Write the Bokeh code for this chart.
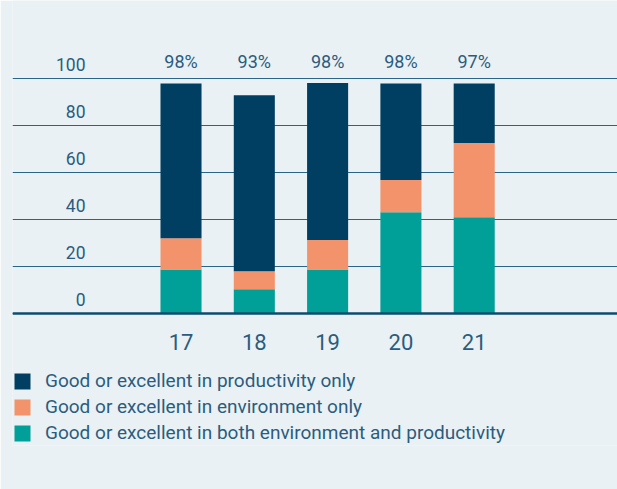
from bokeh.plotting import figure
from bokeh.models import ColumnDataSource, FixedTicker, Legend, LegendItem
from bokeh.embed import file_html
from bokeh.resources import INLINE
from bokeh.core.properties import value

# ---- data ----
years = ["17", "18", "19", "20", "21"]
both_env_prod = [18.7, 10.2, 18.7, 43.1, 40.9]
env_only = [13.3, 7.7, 12.5, 13.7, 31.7]
prod_only = [66.0, 75.1, 67.0, 41.2, 25.4]
total_labels = ["98%", "93%", "98%", "98%", "97%"]
y_ticks = [0, 20, 40, 60, 80, 100]
series_names = [
    "Good or excellent in productivity only",
    "Good or excellent in environment only",
    "Good or excellent in both environment and productivity",
]

# ---- style ----
BG = "#e9f1f4"
NAVY = "#013f62"
ORANGE = "#f3936b"
TEAL = "#009f97"
TEXT = "#2b5c7e"
GRID = "#2a6489"
FONT = "Roboto"

xs = list(range(len(years)))
src = ColumnDataSource(dict(x=xs, both=both_env_prod, env=env_only, prod=prod_only,
                            lab=total_labels, labely=[max(y_ticks)] * len(xs)))

p = figure(width=617, height=489, x_range=(-2.299, 5.955), y_range=(-56.4, 133.4),
           output_backend="svg", toolbar_location=None,
           min_border_left=12, min_border_right=0, min_border_top=0, min_border_bottom=44,
           background_fill_color=BG, border_fill_color=BG, outline_line_color=None)

rs = p.vbar_stack(["both", "env", "prod"], x="x", width=0.56, source=src,
                  color=[TEAL, ORANGE, NAVY], line_color=None)

# total labels above bars
p.text(x="x", y="labely", text="lab", source=src, text_align="center",
       text_baseline="alphabetic", y_offset=-17, text_font=value(FONT),
       text_font_size="18px", text_color=TEXT)

# y tick labels (sit above gridlines, inside the plotting area)
ysrc = ColumnDataSource(dict(y=y_ticks, t=[str(v) for v in y_ticks],
                             x=[-1.303] * len(y_ticks)))
p.text(x="x", y="y", text="t", source=ysrc, text_align="right",
       text_baseline="alphabetic", y_offset=-14, text_font=value(FONT),
       text_font_size="17.5px", text_color=TEXT)

p.yaxis.visible = False
p.xgrid.visible = False
p.ygrid.ticker = FixedTicker(ticks=y_ticks)
p.ygrid.grid_line_color = GRID
p.ygrid.grid_line_width = 1.2

ax = p.xaxis[0]
ax.fixed_location = 0
ax.ticker = FixedTicker(ticks=xs)
ax.major_label_overrides = {i: y for i, y in zip(xs, years)}
ax.axis_line_color = "#0d4c70"
ax.axis_line_width = 2.5
ax.major_tick_line_color = None
ax.minor_tick_line_color = None
ax.major_label_standoff = 15
ax.major_label_text_font = FONT
ax.major_label_text_font_size = "22px"
ax.major_label_text_color = TEXT

legend = Legend(items=[LegendItem(label=series_names[0], renderers=[rs[2]]),
                       LegendItem(label=series_names[1], renderers=[rs[1]]),
                       LegendItem(label=series_names[2], renderers=[rs[0]])],
                location=(0, 1), orientation="vertical",
                glyph_width=20, glyph_height=20, label_height=20, spacing=3,
                padding=0, margin=0, label_standoff=13,
                label_text_font=FONT, label_text_font_size="19px",
                label_text_color=TEXT, border_line_color=None,
                background_fill_alpha=0)
p.add_layout(legend)

open("out.html", "w").write(file_html(p, INLINE))
